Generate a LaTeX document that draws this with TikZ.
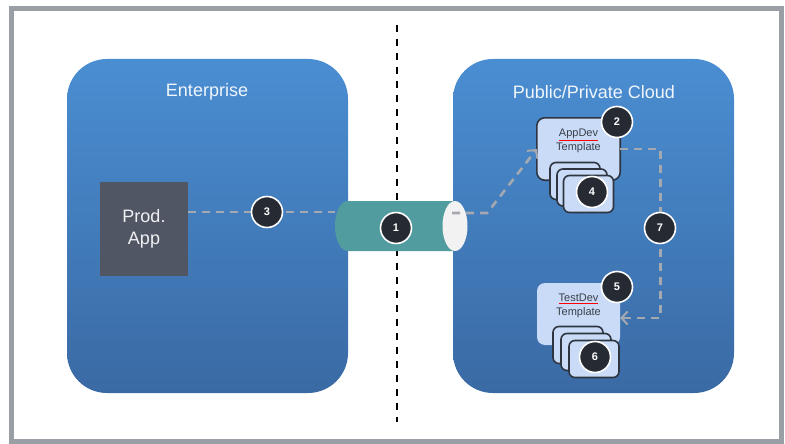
\documentclass[tikz,border=0pt]{standalone}
\usepackage{fontspec}
\setmainfont{Liberation Sans}
\usepackage{tikz}
\usetikzlibrary{arrows.meta}

\definecolor{frameGray}{HTML}{9A9EA5}
\definecolor{boxTop}{HTML}{4A8ED2}
\definecolor{boxBottom}{HTML}{3A6AA4}
\definecolor{prodGray}{HTML}{505664}
\definecolor{pipeTeal}{HTML}{509C9F}
\definecolor{pipeEnd}{HTML}{F2F2F2}
\definecolor{tmplFill}{HTML}{C9DBF7}
\definecolor{tmplLine}{HTML}{2F3540}
\definecolor{tmplText}{HTML}{3A3F48}
\definecolor{badgeFill}{HTML}{262A32}
\definecolor{flowGray}{HTML}{A4A9B1}

\newcommand{\spellmark}[1]{\textcolor{red}{\underline{\textcolor{tmplText}{#1}}}}

\tikzset{
  cloudbox/.style={rectangle, rounded corners=40pt, minimum width=281pt,
    minimum height=334pt, top color=boxTop, bottom color=boxBottom, draw=none},
  boxtitle/.style={text=white!92!boxTop, font=\fontsize{18}{20}\selectfont},
  prodbox/.style={rectangle, fill=prodGray, minimum width=88pt, minimum height=94pt,
    text=white!92!prodGray, align=center, font=\fontsize{18}{22}\selectfont},
  tmplbox/.style={rectangle, rounded corners=8pt, fill=tmplFill, minimum width=83pt,
    minimum height=62pt, align=center, text=tmplText,
    font=\fontsize{11}{14}\selectfont, text depth=18pt},
  card/.style={rectangle, rounded corners=6pt, fill=tmplFill, draw=tmplLine,
    line width=1.6pt, minimum width=50pt, minimum height=37pt},
  badge/.style={circle, fill=badgeFill, draw=white, line width=1.6pt,
    minimum size=31pt, inner sep=0pt, text=white, font=\bfseries\fontsize{11}{11}\selectfont},
  flow/.style={draw=flowGray, line width=2.6pt, dash pattern=on 8pt off 6pt},
}

\begin{document}
\begin{tikzpicture}[x=1pt,y=-1pt]
    \useasboundingbox[fill=white] (0,0) rectangle (785,444);
    \draw[frameGray, line width=5pt] (11,9) rectangle (781,441);

    \node[cloudbox] (ent) at (207.5,226) {};
    \node[cloudbox] (cld) at (593.5,226) {};
    \node[boxtitle] (enttitle) at (207,92) {Enterprise};
    \node[boxtitle] (cldtitle) at (594,92) {Public/Private Cloud};

    \draw[black, line width=1.6pt, dash pattern=on 7pt off 7pt] (397,25) -- (397,422);

    \node[prodbox] (prod) at (144,229) {Prod.\\App};

    \node[minimum width=132pt, minimum height=50pt, inner sep=0pt] (pipe) at (401,226) {};
    \coordinate (pipeL) at (347.5,226);
    \coordinate (pipeR) at (455,226);
    \fill[pipeTeal] (pipeR) ++(0,-25) -- ([yshift=25pt]pipeL)
      arc[start angle=270, end angle=90, x radius=12.5, y radius=25]
      -- ([yshift=-25pt]pipeR) -- cycle;
    \fill[pipeEnd] (pipeR) ellipse[x radius=12.5, y radius=25];

    \draw[flow] ([yshift=17pt]prod.east) -- ([yshift=17pt]prod.east -| pipe.west);

    \node[tmplbox] (appdev) at (578.5,149) {\spellmark{AppDev}\\Template};
    \draw[tmplLine, line width=1.6pt, rounded corners=8pt]
      (appdev.north west) rectangle (appdev.south east);
    \node[tmplbox] (testdev) at (578.5,314) {\spellmark{TestDev}\\Template};

    \foreach \i/\cx/\cy in {1/575/181, 2/582/187.5, 3/588.5/194}
      \node[card] (adcard\i) at (\cx,\cy) {};
    \foreach \i/\cx/\cy in {1/578/345, 2/586/352, 3/594/359}
      \node[card] (tdcard\i) at (\cx,\cy) {};

    \draw[flow, -{Straight Barb[length=6pt, width=13pt, line width=2pt]}]
      ([xshift=-15pt,yshift=13pt]pipe.east) -- ++(35,0) -- (appdev.west);
    \draw[flow, -{Straight Barb[length=6pt, width=13pt, line width=2pt]}]
      (appdev.east) -- ++(40,0) |- ([yshift=-4pt]testdev.east);

    \node[badge] (b1) at (396,228) {1};
    \node[badge] (b2) at (617,122) {2};
    \node[badge] (b3) at (267,212) {3};
    \node[badge] (b4) at (592,192) {4};
    \node[badge] (b5) at (617,287) {5};
    \node[badge] (b6) at (595,357) {6};
    \node[badge] (b7) at (660,228) {7};
\end{tikzpicture}
\end{document}
